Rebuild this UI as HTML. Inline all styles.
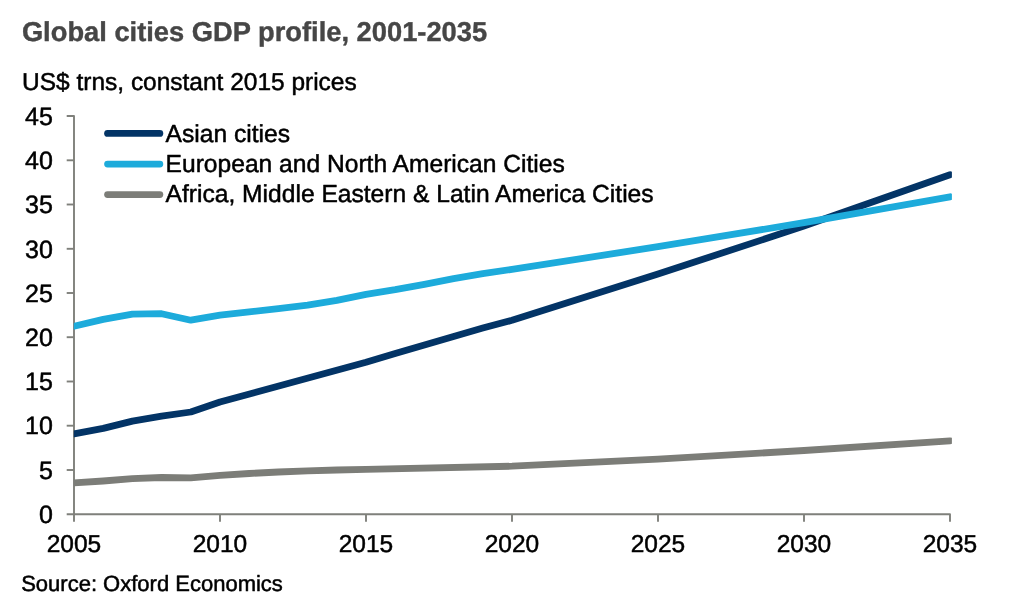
<!DOCTYPE html>
<html lang="en"><head><meta charset="utf-8"><title>Global cities GDP profile, 2001-2035</title>
<style>
html,body{margin:0;padding:0;background:#fff;}
body{width:1024px;height:603px;overflow:hidden;position:relative;}
svg{position:absolute;left:0;top:0;display:block;}
text{text-rendering:geometricPrecision;font-family:"Liberation Sans",Arial,Helvetica,sans-serif;fill:#000;stroke:#000;stroke-width:0.5px;stroke-linejoin:round;}
.t{font-weight:bold;font-size:27.3px;fill:#464646;stroke:#464646;stroke-width:0.4px;}
.s{font-size:24.48px;}
.l{font-size:24.6px;}
.a{font-size:25px;}
.ax{font-size:24.5px;}
.src{font-size:22px;}
</style></head><body>
<svg width="1024" height="603" viewBox="0 0 1024 603">
<defs><clipPath id="plot"><rect x="73.8" y="100" width="878.1" height="420"/></clipPath></defs>
<rect width="1024" height="603" fill="#fff"/>
<text class="t" x="21.9" y="40.9">Global cities GDP profile, 2001-2035</text>
<text class="s" x="22.1" y="90.3">US$ trns, constant 2015 prices</text>
<g stroke="#7f807b" stroke-width="1.9" fill="none" stroke-linejoin="round">
<path d="M66.7 116.0H74V521.7"/>
<path d="M66.7 514.2H950V521.7"/>
<path d="M66.7 470.0H74"/>
<path d="M66.7 425.7H74"/>
<path d="M66.7 381.5H74"/>
<path d="M66.7 337.2H74"/>
<path d="M66.7 293.0H74"/>
<path d="M66.7 248.8H74"/>
<path d="M66.7 204.5H74"/>
<path d="M66.7 160.3H74"/>
<path d="M220.0 514.2V521.7"/>
<path d="M366.0 514.2V521.7"/>
<path d="M512.0 514.2V521.7"/>
<path d="M658.0 514.2V521.7"/>
<path d="M804.0 514.2V521.7"/>
</g>
<text class="a" x="52.9" y="522.9" text-anchor="end">0</text>
<text class="a" x="52.9" y="478.7" text-anchor="end">5</text>
<text class="a" x="52.9" y="434.4" text-anchor="end">10</text>
<text class="a" x="52.9" y="390.2" text-anchor="end">15</text>
<text class="a" x="52.9" y="345.9" text-anchor="end">20</text>
<text class="a" x="52.9" y="301.7" text-anchor="end">25</text>
<text class="a" x="52.9" y="257.5" text-anchor="end">30</text>
<text class="a" x="52.9" y="213.2" text-anchor="end">35</text>
<text class="a" x="52.9" y="169.0" text-anchor="end">40</text>
<text class="a" x="52.9" y="124.7" text-anchor="end">45</text>
<text class="ax" x="74.0" y="551.5" text-anchor="middle">2005</text>
<text class="ax" x="220.0" y="551.5" text-anchor="middle">2010</text>
<text class="ax" x="366.0" y="551.5" text-anchor="middle">2015</text>
<text class="ax" x="512.0" y="551.5" text-anchor="middle">2020</text>
<text class="ax" x="658.0" y="551.5" text-anchor="middle">2025</text>
<text class="ax" x="804.0" y="551.5" text-anchor="middle">2030</text>
<text class="ax" x="950.0" y="551.5" text-anchor="middle">2035</text>
<g clip-path="url(#plot)" fill="none" stroke-width="6.8" stroke-linejoin="round" stroke-linecap="round">
<polyline stroke="#033466" points="74.0,433.9 103.2,428.4 132.4,421.1 161.6,416.1 190.8,412.0 220.0,402.0 366.0,362.3 395.2,353.5 424.4,345.0 453.6,336.4 482.8,328.1 512.0,320.3 658.0,274.0 804.0,226.1 950.0,174.8"/>
<polyline stroke="#1dabdb" points="74.0,326.3 103.2,319.4 132.4,314.1 161.6,313.7 190.8,320.2 220.0,315.2 249.2,311.9 278.4,308.7 307.6,305.2 336.8,300.3 366.0,294.3 395.2,289.7 424.4,284.3 453.6,278.6 482.8,273.6 512.0,269.4 658.0,246.7 804.0,222.7 950.0,196.8"/>
<polyline stroke="#7c7d78" points="74.0,482.8 103.2,481.0 132.4,478.7 161.6,477.5 190.8,477.8 220.0,475.4 249.2,473.5 278.4,472.0 307.6,470.9 336.8,470.0 366.0,469.4 512.0,466.2 658.0,459.1 804.0,450.5 950.0,440.8"/>
</g>
<g stroke-width="6.7" stroke-linecap="round">
<path stroke="#033466" d="M107.5 133.45H159.9"/>
<path stroke="#1dabdb" d="M107.5 164.1H159.9"/>
<path stroke="#7c7d78" d="M107.5 194.6H159.9"/>
</g>
<text class="l" x="165.6" y="141.7">Asian cities</text>
<text class="l" x="165.6" y="172.0">European and North American Cities</text>
<text class="l" x="165.6" y="202.3">Africa, Middle Eastern &amp; Latin America Cities</text>
<text class="src" x="21.2" y="590.7">Source: Oxford Economics</text>
</svg>
</body></html>
